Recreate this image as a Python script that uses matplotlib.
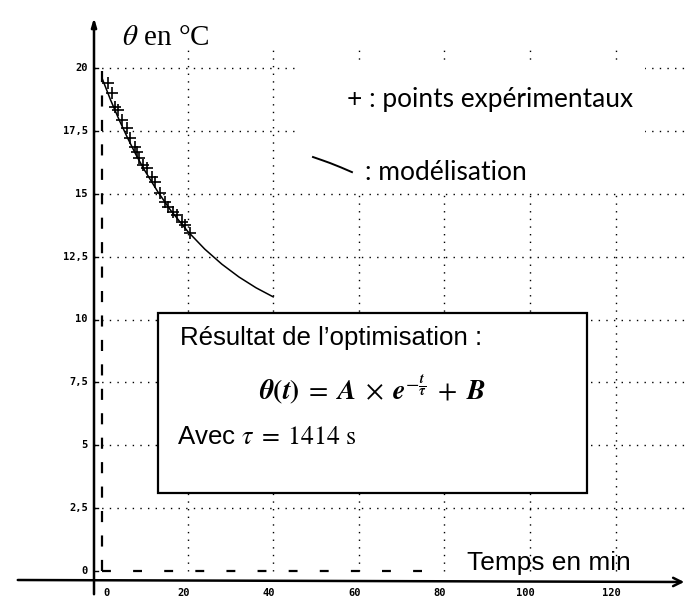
import matplotlib
matplotlib.use("Agg")
import matplotlib.pyplot as plt
from matplotlib.patches import Rectangle

plt.rcParams['mathtext.fontset'] = 'stix'

# ---- data ----
t_exp = [1.4, 2.3, 3.0, 3.7, 4.7, 5.8, 6.5, 7.7, 8.2, 8.6, 9.6, 10.5, 11.7,
         12.4, 13.6, 14.7, 15.4, 16.6, 17.5, 18.7, 19.4, 20.6]
theta_exp = [19.40, 19.01, 18.45, 18.33, 17.93, 17.61, 17.22, 16.86, 16.66,
             16.42, 16.14, 16.02, 15.67, 15.47, 15.03, 14.67, 14.47, 14.27,
             14.16, 13.88, 13.76, 13.44]
t_mod = [0, 2, 4, 6, 8, 10, 13, 16, 20, 24, 28, 32, 36, 40]
theta_mod = [19.60, 18.73, 17.94, 17.21, 16.53, 15.92, 15.09, 14.35, 13.51,
             12.80, 12.20, 11.69, 11.26, 10.90]
legend_t = [49.3, 51.5, 53.3, 55.8, 58.4]
legend_theta = [16.46, 16.33, 16.22, 16.05, 15.86]
y_ticks = [0, 2.5, 5, 7.5, 10, 12.5, 15, 17.5, 20]
y_tick_labels = ['0', '2,5', '5', '7,5', '10', '12,5', '15', '17,5', '20']
x_ticks = [0, 20, 40, 60, 80, 100, 120]
x_tick_labels = ['0', '20', '40', '60', '80', '100', '120']

W, H = 689, 597
fig = plt.figure(figsize=(W / 100, H / 100), dpi=100)
ax = fig.add_axes([0, 0, 1, 1])
ax.set_axis_off()
x0px, sx = 102.0, 4.28
y0px, sy = 571.0, 25.15
ax.set_xlim(-x0px / sx, (W - x0px) / sx)
ax.set_ylim((y0px - H) / sy, y0px / sy)

def px2t(x):
    return (x - x0px) / sx

def px2th(y):
    return (y0px - y) / sy

dot = (0, (1, 4.5))
# grid
for yv in y_ticks[1:]:
    ax.plot([px2t(94), px2t(689)], [yv, yv], color='black', lw=1.0,
            ls=dot, zorder=1)
for xv in x_ticks[1:]:
    ax.plot([xv, xv], [0, px2th(45)], color='black', lw=1.0, ls=dot, zorder=1)

# white area behind legend
ax.add_patch(Rectangle((px2t(300), px2th(190)), px2t(645) - px2t(300),
                       px2th(63) - px2th(190), facecolor='white',
                       edgecolor='none', zorder=2))

# dashed asymptote lines
ax.plot([0, 0], [0, 20], color='black', lw=1.6, ls=(0, (5, 6)), zorder=3)
ax.plot([0, px2t(432)], [0, 0], color='black', lw=1.6, ls=(0, (4, 10)), zorder=3)

# axes with arrows
ax.annotate('', xy=(px2t(94), px2th(15)), xytext=(px2t(94), px2th(597)),
            arrowprops=dict(arrowstyle='-|>,head_length=0.5,head_width=0.15',
                            color='black', lw=1.8), zorder=4)
ax.annotate('', xy=(px2t(687), px2th(582)), xytext=(px2t(15), px2th(580)),
            arrowprops=dict(arrowstyle='->,head_length=0.6,head_width=0.3',
                            color='black', lw=1.8), zorder=4)

# ticks and labels
for yv, lab in zip(y_ticks, y_tick_labels):
    ax.plot([px2t(94), px2t(98)], [yv, yv], color='black', lw=1.0, zorder=4)
    ax.text(px2t(88), yv, lab, ha='right', va='center', fontsize=7.5,
            family='DejaVu Sans Mono', fontweight='bold', zorder=5)
for xv, lab in zip(x_ticks, x_tick_labels):
    xx = xv + 1 if xv == 0 else xv - 1
    ax.text(xx, px2th(593), lab, ha='center', va='center', fontsize=7.5,
            family='DejaVu Sans Mono', fontweight='bold', zorder=5)

# model curve and experimental points
ax.plot(t_mod, theta_mod, color='black', lw=1.1, zorder=5)
ax.plot(t_exp, theta_exp, ls='none', marker='+', ms=9, mew=1.2,
        color='black', zorder=6)

# axis titles
ax.text(px2t(122), px2th(38), r'$\theta$ en °C', ha='left', va='center',
        fontsize=21, family='Liberation Serif', zorder=5)
ax.text(px2t(467), px2th(563), 'Temps en min', ha='left', va='center',
        fontsize=18.9, family='Liberation Sans', zorder=5)

# legend
ax.text(px2t(347), px2th(100), '+ : points expérimentaux', ha='left',
        va='center', fontsize=18.9, family='Lato', zorder=5)
ax.plot(legend_t, legend_theta, color='black', lw=1.4, zorder=5)
ax.text(px2t(365), px2th(172), ': modélisation', ha='left', va='center',
        fontsize=19, family='Lato', zorder=5)

# result box
ax.add_patch(Rectangle((px2t(158), px2th(493)), px2t(587) - px2t(158),
                       px2th(313) - px2th(493), facecolor='white',
                       edgecolor='black', lw=1.6, zorder=7))
ax.text(px2t(180), px2th(338), 'Résultat de l\u2019optimisation :', ha='left',
        va='center', fontsize=18.6, family='Liberation Sans', zorder=8)
ax.text(px2t(372), px2th(390),
        r'$\mathbfit{\theta}\mathbf{(}\mathbfit{t}\mathbf{)}\;=\;\mathbfit{A}\;\times\;'
        r'\mathbfit{e}^{-\frac{\mathbfit{t}}{\mathbfit{\tau}}}\;+\;\mathbfit{B}$',
        ha='center', va='center', fontsize=20, zorder=8)
ax.text(px2t(177), px2th(437), r'Avec $\tau\;=\;\mathrm{1414\ s}$', ha='left',
        va='center', fontsize=18.6, family='Liberation Sans', zorder=8)

fig.savefig('out.png', dpi=100)
